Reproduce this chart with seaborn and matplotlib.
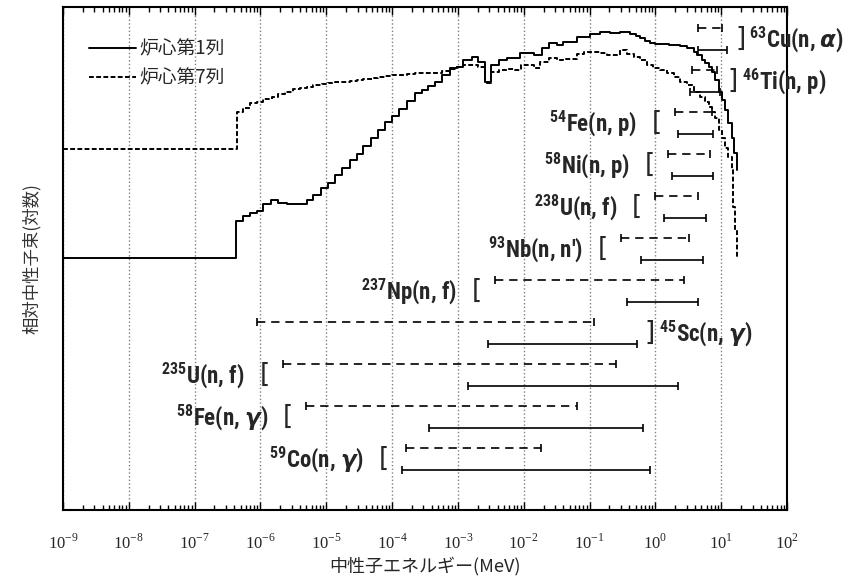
import numpy as np
import pandas as pd
import seaborn as sns
import matplotlib.pyplot as plt
from matplotlib.ticker import FixedLocator, FuncFormatter, NullFormatter

# neutron spectra: log10 of group lower energy (MeV) and relative flux (log, arbitrary units)
core1_log_e = [-9.0, -6.37, -6.27, -6.16, -6.06, -5.96, -5.84, -5.73, -5.60, -5.30,
               -5.20, -5.08, -4.98, -4.87, -4.76, -4.64, -4.54, -4.44, -4.32, -4.21,
               -4.11, -4.00, -3.89, -3.78, -3.65, -3.55, -3.45, -3.35, -3.24, -3.12,
               -3.02, -2.92, -2.79, -2.69, -2.59, -2.49, -2.38, -2.26, -2.05, -1.85,
               -1.72, -1.62, -1.50, -1.40, -1.19, -0.99, -0.84, -0.69, -0.53, -0.38,
               -0.30, -0.23, -0.15, -0.08, 0.00, 0.10, 0.20, 0.28, 0.38, 0.48,
               0.58, 0.63, 0.71, 0.76, 0.81, 0.86, 0.91, 0.96, 1.01, 1.06,
               1.11, 1.16, 1.20, 1.24]
core1_flux = [252, 289, 294, 297, 299, 306, 310, 307, 306, 310,
              315, 322, 327, 335, 342, 350, 356, 364, 372, 380,
              388, 394, 401, 409, 417, 420, 424, 428, 435, 442,
              443, 450, 453, 448, 428, 445, 450, 452, 457, 455,
              462, 467, 465, 468, 473, 476, 478, 477, 478, 476,
              474, 472, 469, 467, 466, 466, 465, 465, 464, 462,
              458, 455, 450, 447, 443, 438, 430, 418, 410, 400,
              387, 372, 357, 340]

core7_log_e = [-9.0, -6.36, -6.27, -6.16, -6.06, -5.96, -5.83, -5.73, -5.63, -5.50,
               -5.40, -5.30, -5.20, -5.07, -4.97, -4.87, -4.64, -4.54, -4.44, -4.31,
               -4.21, -4.11, -4.00, -3.78, -3.65, -3.24, -3.12, -3.02, -2.92, -2.69,
               -2.59, -2.49, -2.38, -2.26, -2.14, -2.04, -1.85, -1.75, -1.62, -1.50,
               -1.40, -1.19, -1.09, -0.84, -0.74, -0.53, -0.43, -0.33, -0.23, -0.13,
               -0.03, 0.07, 0.17, 0.28, 0.38, 0.48, 0.58, 0.68, 0.76, 0.81,
               0.86, 0.91, 0.96, 1.01, 1.06, 1.11, 1.16, 1.18, 1.21, 1.24]
core7_flux = [361, 398, 402, 407, 408, 411, 413, 416, 418, 421,
              422, 423, 425, 426, 427, 428, 429, 430, 431, 432,
              433, 434, 435, 436, 437, 439, 441, 443, 445, 443,
              427, 438, 440, 441, 440, 445, 442, 448, 452, 450,
              451, 456, 458, 457, 455, 460, 456, 453, 450, 445,
              442, 440, 437, 433, 428, 425, 418, 413, 408, 403,
              398, 392, 380, 372, 362, 353, 340, 303, 280, 253]

legend_labels = ['炉心第1列', '炉心第7列']
decades = [1e-9, 1e-8, 1e-7, 1e-6, 1e-5, 1e-4, 1e-3, 1e-2, 1e-1, 1e0, 1e1, 1e2]

# reaction response ranges (MeV): core column 7 (dashed) and column 1 (solid)
reactions = [r'$^{\mathbf{63}}$Cu(n, $\alpha$)', r'$^{\mathbf{46}}$Ti(n, p)', r'$^{\mathbf{54}}$Fe(n, p)',
             r'$^{\mathbf{58}}$Ni(n, p)', r'$^{\mathbf{238}}$U(n, f)', r"$^{\mathbf{93}}$Nb(n, n')",
             r'$^{\mathbf{237}}$Np(n, f)', r'$^{\mathbf{45}}$Sc(n, $\gamma$)', r'$^{\mathbf{235}}$U(n, f)',
             r'$^{\mathbf{58}}$Fe(n, $\gamma$)', r'$^{\mathbf{59}}$Co(n, $\gamma$)']
col7_low = [4.5, 3.6, 2.0, 1.56, 1.0, 0.30, 3.7e-3, 8.9e-7, 2.2e-6, 4.9e-6, 1.6e-4]
col7_high = [10.4, 8.7, 7.3, 6.8, 4.4, 3.3, 2.7, 0.117, 0.25, 0.065, 0.018]
col1_low = [4.4, 3.4, 2.2, 1.8, 1.36, 0.60, 0.37, 2.9e-3, 1.4e-3, 3.6e-4, 1.4e-4]
col1_high = [12.3, 9.6, 7.6, 7.6, 5.9, 5.3, 4.4, 0.52, 2.2, 0.65, 0.83]
label_side = ['right', 'right', 'left', 'left', 'left', 'left', 'left', 'right', 'left', 'left', 'left']

spectra = pd.concat([
    pd.DataFrame({'energy': 10 ** np.array(core1_log_e), 'flux': core1_flux, 'pos': legend_labels[0]}),
    pd.DataFrame({'energy': 10 ** np.array(core7_log_e), 'flux': core7_flux, 'pos': legend_labels[1]}),
])

sns.set_style('white')
plt.rcParams['font.family'] = ['Noto Sans CJK JP', 'DejaVu Sans']
plt.rcParams['mathtext.fontset'] = 'custom'
plt.rcParams['mathtext.rm'] = 'Liberation Serif'
plt.rcParams['mathtext.bf'] = 'Roboto Condensed:bold'
plt.rcParams['mathtext.it'] = 'DejaVu Sans:italic:bold'
label_font = ['Roboto Condensed', 'Roboto', 'DejaVu Sans']

fig = plt.figure(figsize=(8.48, 5.85), dpi=100)
ax = fig.add_axes([63 / 848, 75 / 585, 724 / 848, 503 / 585])
ax.set_xscale('log')

sns.lineplot(data=spectra, x='energy', y='flux', style='pos', style_order=legend_labels,
             dashes={legend_labels[0]: '', legend_labels[1]: (2.5, 1.2)},
             color='black', lw=1.4, drawstyle='steps-post', estimator=None, sort=False, ax=ax)

# reaction ranges
row_top, pair_gap, row_gap = 482, 21.5, 42
for i, name in enumerate(reactions):
    y7 = row_top - i * row_gap
    y1 = y7 - pair_gap
    ax.hlines(y7, col7_low[i], col7_high[i], color='black', lw=1.2, linestyles=(0, (5, 3.5)))
    ax.hlines(y1, col1_low[i], col1_high[i], color='black', lw=1.2)
    ax.scatter([col7_low[i], col7_high[i], col1_low[i], col1_high[i]], [y7, y7, y1, y1],
               marker='|', s=38, color='black', linewidths=1.2, zorder=3)
    ymid = (y7 + y1) / 2
    if label_side[i] == 'left':
        xb = min(col7_low[i], col1_low[i])
        ax.annotate('[', (xb, ymid), xytext=(-18, 0), textcoords='offset pixels',
                    ha='center', va='center', fontsize=19, family='DejaVu Sans')
        ax.annotate(name, (xb, ymid), xytext=(-38, 0), textcoords='offset pixels',
                    ha='right', va='center', fontsize=16.5, family=label_font, weight='bold')
    else:
        xb = max(col7_high[i], col1_high[i])
        ax.annotate(']', (xb, ymid), xytext=(13, 0), textcoords='offset pixels',
                    ha='center', va='center', fontsize=19, family='DejaVu Sans')
        ax.annotate(name, (xb, ymid), xytext=(22, 0), textcoords='offset pixels',
                    ha='left', va='center', fontsize=16.5, family=label_font,
                    weight='bold', annotation_clip=False)

ax.set_xlim(1e-9, 1e2)
ax.set_ylim(0, 503)
ax.set_yticks([])
ax.xaxis.set_major_locator(FixedLocator(decades))
ax.xaxis.set_minor_locator(FixedLocator([d * k for d in decades[:-1] for k in range(2, 10)]))
ax.xaxis.set_major_formatter(FuncFormatter(lambda v, p: r'$10^{%d}$' % round(np.log10(v))))
ax.xaxis.set_minor_formatter(NullFormatter())
ax.tick_params(axis='x', which='both', direction='in', top=True, bottom=True, color='black',
               labelsize=12, pad=17)
ax.tick_params(axis='x', which='major', length=6, width=1)
ax.tick_params(axis='x', which='minor', length=3.5, width=1)
ax.grid(True, which='major', axis='x', ls=':', color='gray', lw=1)
for s in ax.spines.values():
    s.set_color('black')
    s.set_linewidth(1.5)

ax.set_xlabel('中性子エネルギー(MeV)', fontsize=13, labelpad=3)
ax.set_ylabel('相対中性子束(対数)', fontsize=12.5, labelpad=16, color='#333333')

handles, labels = ax.get_legend_handles_labels()
ax.legend(handles, labels, loc='upper left', bbox_to_anchor=(0.026, 0.952), frameon=False,
          fontsize=13.5, handlelength=2.5, handletextpad=0.15, labelspacing=0.4, borderaxespad=0)

fig.savefig('out.png', dpi=100)
